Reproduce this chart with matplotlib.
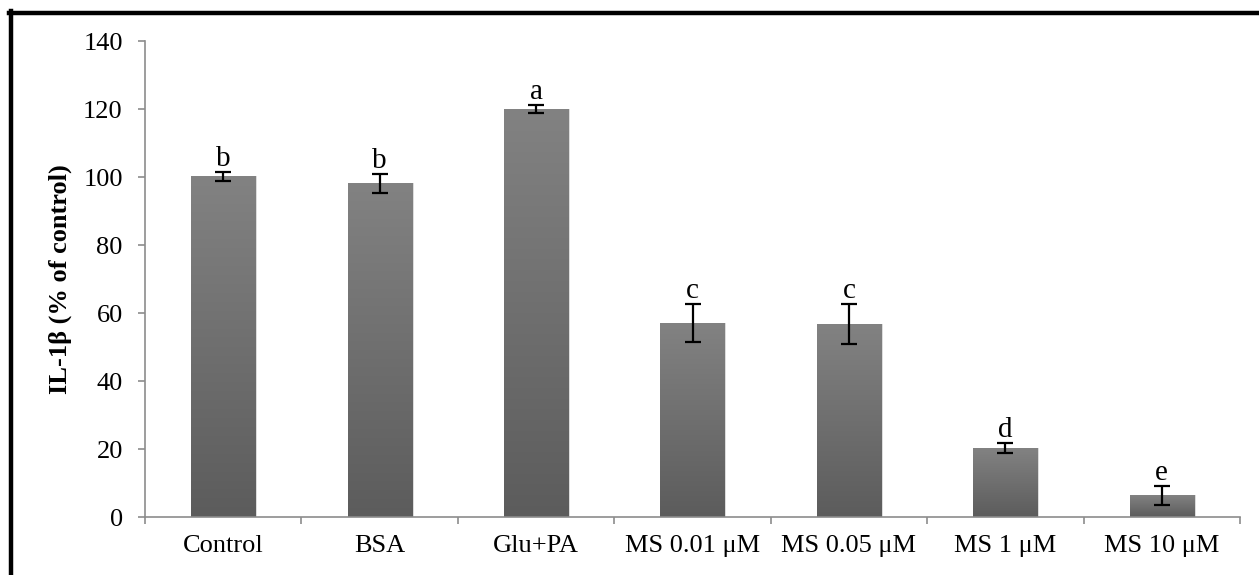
import matplotlib.pyplot as plt
import numpy as np
from matplotlib.lines import Line2D
from matplotlib.colors import LinearSegmentedColormap

plt.rcParams['font.family'] = ['Liberation Serif', 'DejaVu Serif']

groups = ['Control', 'BSA', 'Glu+PA', 'MS 0.01 μM', 'MS 0.05 μM', 'MS 1 μM', 'MS 10 μM']
values = [100.2, 98.1, 120.0, 57.0, 56.7, 20.2, 6.4]
errors = [1.4, 2.8, 1.2, 5.6, 5.9, 1.5, 2.8]
letters = ['b', 'b', 'a', 'c', 'c', 'd', 'e']

fig = plt.figure(figsize=(12.59, 5.75), dpi=100)
ax = fig.add_axes([145/1259, 58/575, 1095/1259, 476/575])

x = np.arange(len(groups))
bw = 0.41
bars = ax.bar(x, values, width=bw, color='none', edgecolor='none', zorder=2)

# vertical grey gradient inside each bar
grey = LinearSegmentedColormap.from_list('g', ['#5c5c5c', '#828282'])
grad = np.linspace(0, 1, 256).reshape(-1, 1)
for bar in bars:
    x0 = bar.get_x()
    h = bar.get_height()
    ax.imshow(grad, extent=[x0, x0 + bw, 0, h], origin='lower', aspect='auto',
              cmap=grey, zorder=2)
    # soft shadow on the right
    ax.add_patch(plt.Rectangle((x0 + bw, 0), 0.012, h, color='#dcdcdc', lw=0, zorder=1))

ax.errorbar(x, values, yerr=errors, fmt='none', ecolor='black', elinewidth=1.6,
            capsize=5.5, capthick=1.6, zorder=3)

for xi, v, e, lab in zip(x, values, errors, letters):
    ax.annotate(lab, (xi, v + e), xytext=(0, 0), textcoords='offset points',
                ha='center', va='bottom', fontsize=21)

ax.set_xlim(-0.5, len(groups) - 0.5)
ax.set_ylim(0, 140)
ax.set_yticks(range(0, 141, 20))
ax.set_xticks(x)
ax.set_xticklabels(groups, fontsize=19)
ax.tick_params(axis='y', labelsize=19, length=5, color='#8c8c8c', width=1.2, pad=11)
ax.tick_params(axis='x', length=0, pad=13)
ax.set_xticks(np.arange(-0.5, len(groups), 1), minor=True)
ax.tick_params(axis='x', which='minor', length=5, color='#8c8c8c', width=1.2, direction='out')
ax.set_ylabel('IL-1β (% of control)', fontsize=19, fontweight='bold', labelpad=8)

for s in ['top', 'right']:
    ax.spines[s].set_visible(False)
for s in ['left', 'bottom']:
    ax.spines[s].set_color('#8c8c8c')
    ax.spines[s].set_linewidth(1.2)

# outer frame (top and left only)
fig.add_artist(Line2D([9/1259, 1.0], [1 - 12.5/575, 1 - 12.5/575], color='black', lw=3.2,
                      transform=fig.transFigure))
fig.add_artist(Line2D([11/1259, 11/1259], [0, 1 - 11/575], color='black', lw=3.2,
                      transform=fig.transFigure))

fig.savefig('out.png', dpi=100)
